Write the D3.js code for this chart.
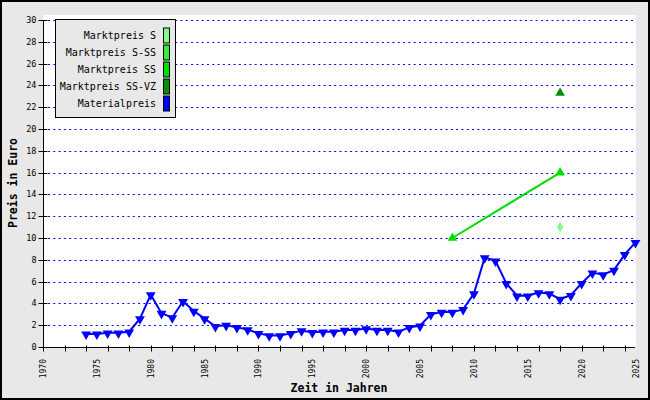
<!DOCTYPE html>
<html><head><meta charset="utf-8">
<script src="https://cdn.jsdelivr.net/npm/d3@7"></script>
<style>html,body{margin:0;padding:0;background:#fff}svg{display:block}</style>
</head><body>
<svg id="chart" width="650" height="400"></svg>
<script>
const materialYears = [1974,1975,1976,1977,1978,1979,1980,1981,1982,1983,1984,1985,1986,1987,1988,1989,1990,1991,1992,1993,1994,1995,1996,1997,1998,1999,2000,2001,2002,2003,2004,2005,2006,2007,2008,2009,2010,2011,2012,2013,2014,2015,2016,2017,2018,2019,2020,2021,2022,2023,2024,2025];
const materialValues = [1.2,1.2,1.3,1.3,1.4,2.6,4.8,3.1,2.7,4.2,3.3,2.6,1.9,2.0,1.8,1.6,1.25,1.05,1.05,1.25,1.5,1.35,1.4,1.4,1.55,1.55,1.7,1.55,1.55,1.4,1.8,1.95,3.0,3.2,3.2,3.45,4.9,8.2,7.9,5.85,4.7,4.7,5.0,4.9,4.4,4.75,5.85,6.8,6.65,7.05,8.5,9.6];
const sYears = [2018];
const sValues = [11];
const ssYears = [2008,2018];
const ssValues = [10,16];
const ssvzYears = [2018];
const ssvzValues = [23.3];
const legendLabels = ["Marktpreis S","Marktpreis S-SS","Marktpreis SS","Marktpreis SS-VZ","Materialpreis"];
const legendColors = ["#80ff80","#33ee33","#00dd00","#009000","#0000ff"];
const yTicks = d3.range(0,31,2);
const xTicks = d3.range(1970,2025,2);
const xLabels = d3.range(1970,2026,5);

const svg = d3.select("#chart");
const W=650,H=400;
svg.append("rect").attr("x",0).attr("y",0).attr("width",W).attr("height",H).attr("fill","#e8e8e8");
const x = d3.scaleLinear().domain([1970,2025]).range([43,635.5]);
const y = d3.scaleLinear().domain([0,30]).range([347,20]);
// plot area
svg.append("rect").attr("x",43).attr("y",15).attr("width",593).attr("height",332).attr("fill","#fff");
// grid
svg.append("g").selectAll("line").data(yTicks.filter(d=>d>0)).join("line")
  .attr("x1",48).attr("x2",635).attr("y1",d=>Math.round(y(d))+0.5).attr("y2",d=>Math.round(y(d))+0.5)
  .attr("stroke","#0000ff").attr("stroke-width",1).attr("stroke-dasharray","2,3.3");
// y axis
const yAxis = d3.axisLeft(y).tickValues(yTicks).tickSize(5).tickFormat(d3.format("d"));
const gy = svg.append("g").attr("transform","translate(43.5,0)").call(yAxis);
gy.select(".domain").attr("d","M0,"+y(30)+"V"+y(0)).attr("stroke","#000");
gy.selectAll(".tick line").attr("x1",-5).attr("x2",4).attr("stroke","#000");
gy.selectAll(".tick text").attr("x",-7).attr("font-family","DejaVu Sans Mono").attr("font-size","8.5px").attr("fill","#000");
gy.selectAll(".tick").attr("transform",d=>"translate(0,"+(Math.round(y(d))+0.5)+")");
// x axis
const xAxis = d3.axisBottom(x).tickValues(xTicks).tickSize(4).tickFormat("");
const gx = svg.append("g").attr("transform","translate(0,347.5)").call(xAxis);
gx.select(".domain").attr("d","M43,0H635").attr("stroke","#000");
gx.selectAll(".tick line").attr("y1",-2).attr("y2",4).attr("stroke","#000");
gx.selectAll(".tick").attr("transform",d=>"translate("+(Math.round(x(d))+0.5)+",0)");
svg.append("g").selectAll("text").data(xLabels).join("text")
  .attr("transform",d=>"translate("+(x(d)+3)+",359) rotate(-90)")
  .attr("text-anchor","end").attr("font-family","DejaVu Sans Mono").attr("font-size","8px").attr("fill","#000")
  .text(d=>d);
// titles
svg.append("text").attr("x",339).attr("y",392).attr("text-anchor","middle")
  .attr("font-family","DejaVu Sans Mono").attr("font-weight","bold").attr("font-size","11.5px").text("Zeit in Jahren");
svg.append("text").attr("transform","translate(17,183) rotate(-90)").attr("text-anchor","middle")
  .attr("font-family","DejaVu Sans Mono").attr("font-weight","bold").attr("font-size","11.5px").text("Preis in Euro");
// material series
const mat = materialYears.map((yr,i)=>[yr,materialValues[i]]);
const line = d3.line().x(d=>x(d[0])).y(d=>y(d[1]));
svg.append("path").datum(mat).attr("d",line).attr("fill","none").attr("stroke","#0000ff").attr("stroke-width",2);
const triDown = d3.symbol().type(d3.symbolTriangle).size(42);
svg.append("g").selectAll("path").data(mat).join("path")
  .attr("d",triDown).attr("transform",d=>"translate("+x(d[0])+","+(y(d[1])+0.5)+") rotate(180)").attr("fill","#0000ff");
// SS series
const ss = ssYears.map((yr,i)=>[yr,ssValues[i]]);
svg.append("path").datum(ss).attr("d",line).attr("fill","none").attr("stroke","#00dd00").attr("stroke-width",2);
svg.append("g").selectAll("path").data(ss).join("path")
  .attr("d",d3.symbol().type(d3.symbolTriangle).size(40)).attr("transform",d=>"translate("+x(d[0])+","+y(d[1])+")").attr("fill","#00dd00");
// S series
const s = sYears.map((yr,i)=>[yr,sValues[i]]);
svg.append("g").selectAll("path").data(s).join("path")
  .attr("d",d3.symbol().type(d3.symbolDiamond).size(34)).attr("transform",d=>"translate("+x(d[0])+","+y(d[1])+")").attr("fill","#80ff80");
// SS-VZ series
const vz = ssvzYears.map((yr,i)=>[yr,ssvzValues[i]]);
svg.append("g").selectAll("path").data(vz).join("path")
  .attr("d",d3.symbol().type(d3.symbolTriangle).size(40)).attr("transform",d=>"translate("+x(d[0])+","+y(d[1])+")").attr("fill","#009000");
// legend
const lg = svg.append("g");
lg.append("rect").attr("x",55.5).attr("y",19.5).attr("width",120).attr("height",98).attr("fill","#e8e8e8").attr("stroke","#000");
legendLabels.forEach((t,i)=>{
  const cy = 35.5 + i*17;
  lg.append("text").attr("x",156).attr("y",cy+3.5).attr("text-anchor","end")
    .attr("font-family","DejaVu Sans Mono").attr("font-size","10px").attr("fill","#000").text(t);
  lg.append("rect").attr("x",163.5).attr("y",cy-7.5).attr("width",6).attr("height",15).attr("fill",legendColors[i]).attr("stroke","#000");
});
// outer frame
svg.append("rect").attr("x",1).attr("y",1).attr("width",W-2).attr("height",H-2).attr("fill","none").attr("stroke","#000").attr("stroke-width",2);
</script>
</body></html>
